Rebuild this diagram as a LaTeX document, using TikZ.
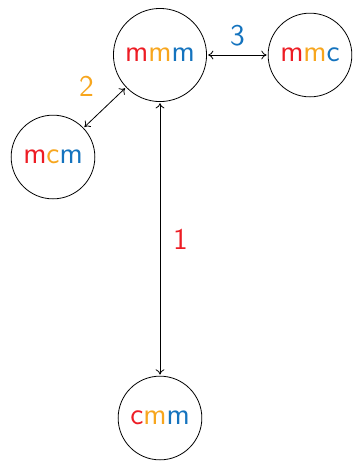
\documentclass[tikz,border=0pt]{standalone}
\usetikzlibrary{arrows.meta}
\definecolor{cred}{RGB}{237,28,36}
\definecolor{corange}{RGB}{247,166,30}
\definecolor{cblue}{RGB}{20,115,190}
\newcommand{\R}[1]{\textcolor{cred}{#1}}
\newcommand{\Og}[1]{\textcolor{corange}{#1}}
\newcommand{\B}[1]{\textcolor{cblue}{#1}}
\begin{document}
\begin{tikzpicture}[x=0.5pt,y=-0.5pt,
  every node/.style={font=\sffamily\fontsize{15}{18}\selectfont},
  state/.style={circle,draw,line width=0.4pt,inner sep=4.5pt},
  link/.style={{To[length=2.6pt,width=4.4pt]}-{To[length=2.6pt,width=4.4pt]},line width=0.4pt,shorten <=0.6pt,shorten >=0.6pt}]
\useasboundingbox (0,0) rectangle (353,463);
\node[state] (mmm) at (160,55) {\R{m}\Og{m}\B{m}};
\node[state] (mmc) at (310,55) {\R{m}\Og{m}\B{c}};
\node[state] (mcm) at (53,157) {\R{m}\Og{c}\B{m}};
\node[state] (cmm) at (160,418) {\R{c}\Og{m}\B{m}};
\draw[link] (mmm) -- node[right=3pt,text=cred] {1} (cmm);
\draw[link] (mmm) -- node[above left=2pt,text=corange] {2} (mcm);
\draw[link] (mmm) -- node[above=1pt,text=cblue] {3} (mmc);
\end{tikzpicture}
\end{document}
